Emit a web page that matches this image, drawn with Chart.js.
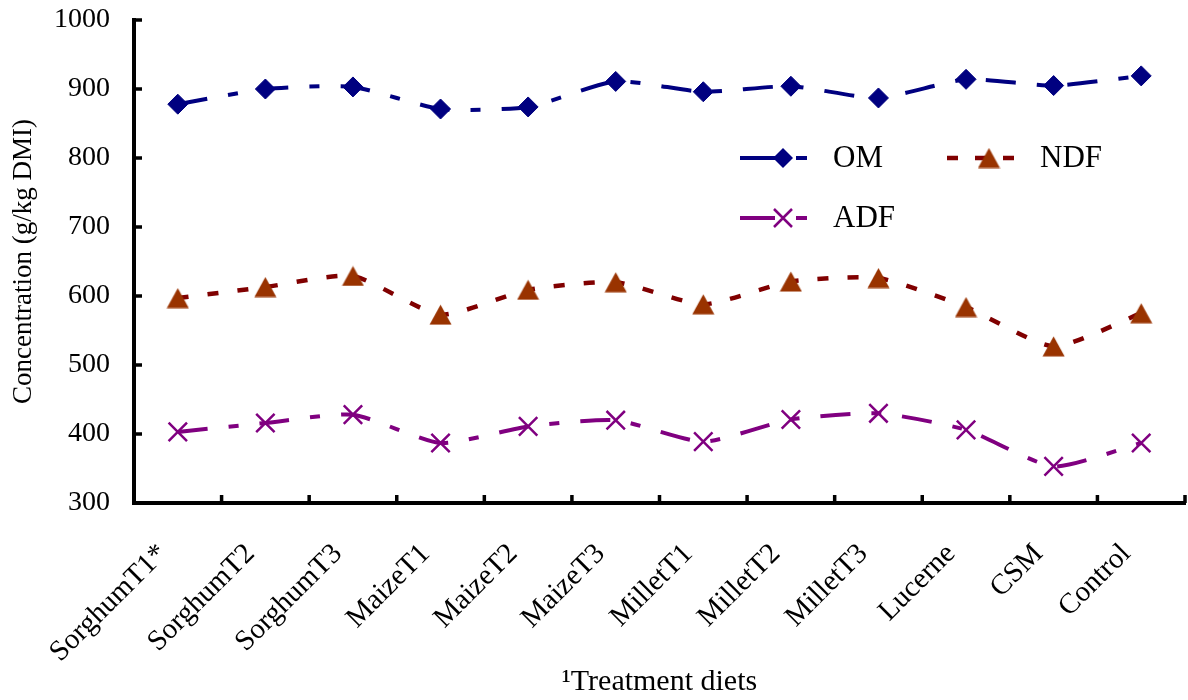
<!DOCTYPE html>
<html>
<head>
<meta charset="utf-8">
<script src="https://cdn.jsdelivr.net/npm/chart.js@4/dist/chart.umd.min.js"></script>
<style>
  html, body { margin: 0; padding: 0; background: #fff; overflow: hidden; }
  #wrap { width: 1188px; height: 700px; position: relative; overflow: hidden; }
  canvas { display: block; }
</style>
</head>
<body>
<div id="wrap"><canvas id="chart"></canvas></div>
<script>
// data (g/kg DMI)
const diets = ['SorghumT1*', 'SorghumT2', 'SorghumT3', 'MaizeT1', 'MaizeT2', 'MaizeT3',
               'MilletT1', 'MilletT2', 'MilletT3', 'Lucerne', 'CSM', 'Control'];
const omValues  = [878, 900, 903, 871, 874, 911, 896, 904, 887, 914, 905, 919];
const ndfValues = [597, 613, 629, 573, 609, 620, 588, 621, 626, 584, 527, 575];
const adfValues = [403, 416, 428, 387, 411, 420, 389, 421, 430, 406, 353, 387];
const yTicks = [300, 400, 500, 600, 700, 800, 900, 1000];

const SERIF = '"Liberation Serif", "Times New Roman", serif';
Chart.defaults.font.family = SERIF;
Chart.defaults.color = '#000';

// triangle marker, centred on its box like the spreadsheet one
function makeTriangle(color) {
  const c = document.createElement('canvas');
  c.width = 23; c.height = 21;
  const g = c.getContext('2d');
  g.fillStyle = color;
  g.beginPath();
  g.moveTo(11.5, 0.5);
  g.lineTo(22.5, 20.5);
  g.lineTo(0.5, 20.5);
  g.closePath();
  g.fill();
  return c;
}
const triangle = makeTriangle('#993300');

const series = [
  { label: 'OM', data: omValues, line: '#000080', dash: [30, 21, 10, 21], width: 4,
    point: 'rectRot', radius: 10, fill: '#000080', pw: 1 },
  { label: 'NDF', data: ndfValues, line: '#800000', dash: [11, 19], width: 4.5,
    point: triangle, radius: 11, fill: '#993300', pw: 0 },
  { label: 'ADF', data: adfValues, line: '#800080', dash: [30, 21, 10, 21], width: 4,
    point: 'crossRot', radius: 13, fill: '#800080', pw: 2.5 }
];

// short tick marks pointing into the plot
const innerTicks = {
  id: 'innerTicks',
  afterDraw(chart) {
    const { ctx, chartArea: a, scales } = chart;
    ctx.save();
    ctx.strokeStyle = '#000';
    ctx.lineWidth = 3.5;
    ctx.beginPath();
    yTicks.forEach(v => {
      const y = scales.y.getPixelForValue(v);
      ctx.moveTo(a.left, y);
      ctx.lineTo(a.left + 8, y);
    });
    const step = (a.right - a.left) / diets.length;
    for (let i = 1; i <= diets.length; i++) {
      const x = a.left + i * step;
      ctx.moveTo(x, a.bottom);
      ctx.lineTo(x, a.bottom - 8);
    }
    ctx.stroke();
    ctx.restore();
  }
};

// legend inside the plot, two columns
const insideLegend = {
  id: 'insideLegend',
  afterDraw(chart) {
    const { ctx } = chart;
    const spots = [
      { x: 740, y: 158, mark: 783, text: 833 },
      { x: 947, y: 158, mark: 989, text: 1040 },
      { x: 740, y: 218, mark: 783, text: 833 }
    ];
    series.forEach((s, i) => {
      const p = spots[i];
      ctx.save();
      ctx.strokeStyle = s.line;
      ctx.lineWidth = s.width;
      ctx.setLineDash(i === 1 ? [11, 17] : [35, 21, 11, 21]);
      ctx.beginPath();
      ctx.moveTo(p.x, p.y);
      ctx.lineTo(p.x + 68, p.y);
      ctx.stroke();
      ctx.setLineDash([]);
      if (s.point === 'rectRot') {
        ctx.fillStyle = s.fill;
        ctx.beginPath();
        ctx.moveTo(p.mark - 10, p.y);
        ctx.lineTo(p.mark, p.y - 10);
        ctx.lineTo(p.mark + 10, p.y);
        ctx.lineTo(p.mark, p.y + 10);
        ctx.closePath();
        ctx.fill();
      } else if (s.point === 'crossRot') {
        ctx.strokeStyle = s.fill;
        ctx.lineWidth = 2.5;
        ctx.beginPath();
        ctx.moveTo(p.mark - 9, p.y - 9); ctx.lineTo(p.mark + 9, p.y + 9);
        ctx.moveTo(p.mark + 9, p.y - 9); ctx.lineTo(p.mark - 9, p.y + 9);
        ctx.stroke();
      } else {
        ctx.drawImage(s.point, p.mark - s.point.width / 2, p.y - s.point.height / 2);
      }
      ctx.fillStyle = '#000';
      ctx.font = '31px ' + SERIF;
      ctx.textBaseline = 'middle';
      ctx.fillText(s.label, p.text, p.y + 1);
      ctx.restore();
    });
  }
};

new Chart(document.getElementById('chart'), {
  type: 'line',
  data: {
    labels: diets,
    datasets: series.map(s => ({
      label: s.label,
      data: s.data,
      borderColor: s.line,
      borderWidth: s.width,
      borderDash: s.dash,
      tension: 0.2,
      pointStyle: s.point,
      pointRadius: s.radius,
      pointBackgroundColor: s.fill,
      pointBorderColor: s.fill,
      pointBorderWidth: s.pw,
      fill: false
    }))
  },
  options: {
    responsive: true,
    maintainAspectRatio: false,
    animation: false,
    layout: { autoPadding: false, padding: { top: 0, right: 3, left: 0, bottom: 0 } },
    plugins: { legend: { display: false }, tooltip: { enabled: false } },
    scales: {
      x: {
        offset: true,
        grid: { display: false },
        border: { display: true, color: '#000', width: 4 },
        ticks: { font: { size: 29 }, maxRotation: 45, minRotation: 45, padding: 26,
                 labelOffset: -15, autoSkip: false },
        title: { display: true, text: '\u00b9Treatment diets', font: { size: 30 }, padding: { top: 0, bottom: 0 } },
        afterFit: s => { s.height = 197; s.paddingRight = 3; s.paddingLeft = 0; }
      },
      y: {
        min: 300,
        max: 1000,
        grid: { display: false, drawTicks: false },
        border: { display: true, color: '#000', width: 4 },
        ticks: { stepSize: 100, font: { size: 28 }, padding: 24, callback: v => String(v) },
        title: { display: true, text: 'Concentration (g/kg DMI)', font: { size: 27 }, padding: { top: 8, bottom: 0 } },
        afterFit: s => { s.width = 134; s.paddingTop = 20; }
      }
    }
  },
  plugins: [innerTicks, insideLegend]
});
</script>
</body>
</html>
